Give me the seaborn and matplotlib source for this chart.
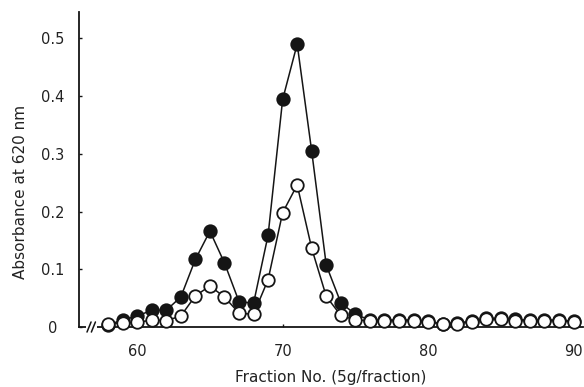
import numpy as np
import pandas as pd
import matplotlib
matplotlib.use("Agg")
import matplotlib.pyplot as plt
import matplotlib.transforms as mtransforms
import seaborn as sns

# ---- data ----
filled_fraction = list(range(58, 91))
filled_abs = [0.004, 0.012, 0.019, 0.029, 0.029, 0.052, 0.117, 0.166, 0.111, 0.044,
              0.041, 0.159, 0.394, 0.490, 0.304, 0.107, 0.042, 0.022, 0.012, 0.012,
              0.012, 0.012, 0.010, 0.006, 0.007, 0.010, 0.015, 0.015, 0.013, 0.012,
              0.012, 0.012, 0.010]

open_fraction = list(range(58, 91))
open_abs = [0.006, 0.007, 0.008, 0.012, 0.011, 0.019, 0.054, 0.071, 0.052, 0.024,
            0.022, 0.082, 0.198, 0.246, 0.136, 0.053, 0.020, 0.012, 0.011, 0.011,
            0.011, 0.011, 0.009, 0.005, 0.006, 0.009, 0.013, 0.013, 0.011, 0.011,
            0.011, 0.011, 0.009]

x_ticks = [60, 70, 80, 90]
y_ticks = [0, 0.1, 0.2, 0.3, 0.4, 0.5]
y_tick_labels = ["0", "0.1", "0.2", "0.3", "0.4", "0.5"]
x_label = "Fraction No. (5g/fraction)"
y_label = "Absorbance at 620 nm"

sns.set_style("ticks")
plt.rcParams["font.family"] = ["DejaVu Sans"]

fig = plt.figure(figsize=(5.84, 3.87), dpi=100)
ax = fig.add_axes([79 / 584, 1 - 327 / 387, 504 / 584, 315 / 387])

ink = "#151515"
df_f = pd.DataFrame({"fraction": filled_fraction, "abs": filled_abs})
df_o = pd.DataFrame({"fraction": open_fraction, "abs": open_abs})

sns.lineplot(data=df_f, x="fraction", y="abs", ax=ax, color=ink, linewidth=1.1,
             marker="o", markersize=9, markerfacecolor=ink, markeredgecolor=ink,
             markeredgewidth=1.3, zorder=3, clip_on=False)
sns.lineplot(data=df_o, x="fraction", y="abs", ax=ax, color=ink, linewidth=1.1,
             marker="o", markersize=9, markerfacecolor="white", markeredgecolor=ink,
             markeredgewidth=1.3, zorder=4, clip_on=False)

ax.set_xlim(56.0, 90.65)
ax.set_ylim(0, 0.5455)
ax.set_xticks(x_ticks)
ax.set_xticklabels([str(t) for t in x_ticks])
ax.set_yticks(y_ticks)
ax.set_yticklabels(y_tick_labels)

for s in ["top", "right"]:
    ax.spines[s].set_visible(False)
for s in ["left", "bottom"]:
    ax.spines[s].set_linewidth(1.3)
    ax.spines[s].set_color(ink)

ax.tick_params(axis="both", direction="in", length=2.5, width=1, color=ink,
               labelsize=10.5, labelcolor="#222222")
ax.tick_params(axis="x", pad=12)
ax.tick_params(axis="y", pad=19)
for lab in ax.get_yticklabels():
    lab.set_horizontalalignment("center")

ax.set_xlabel(x_label, fontsize=11, color="#222222", labelpad=8)
ax.set_ylabel(y_label, fontsize=11, color="#222222", labelpad=9, y=0.43)

# axis break mark "//" on the x-axis
trans = mtransforms.blended_transform_factory(ax.transData, ax.transAxes)
ax.add_patch(plt.Rectangle((56.45, -0.01), 0.8, 0.02, transform=trans,
                           facecolor="white", edgecolor="none", zorder=5, clip_on=False))
for x0 in (56.55, 56.85):
    ax.plot([x0, x0 + 0.28], [-0.016, 0.016], transform=trans, color=ink,
            linewidth=1.1, zorder=6, clip_on=False)

fig.savefig("out.png", dpi=100)
